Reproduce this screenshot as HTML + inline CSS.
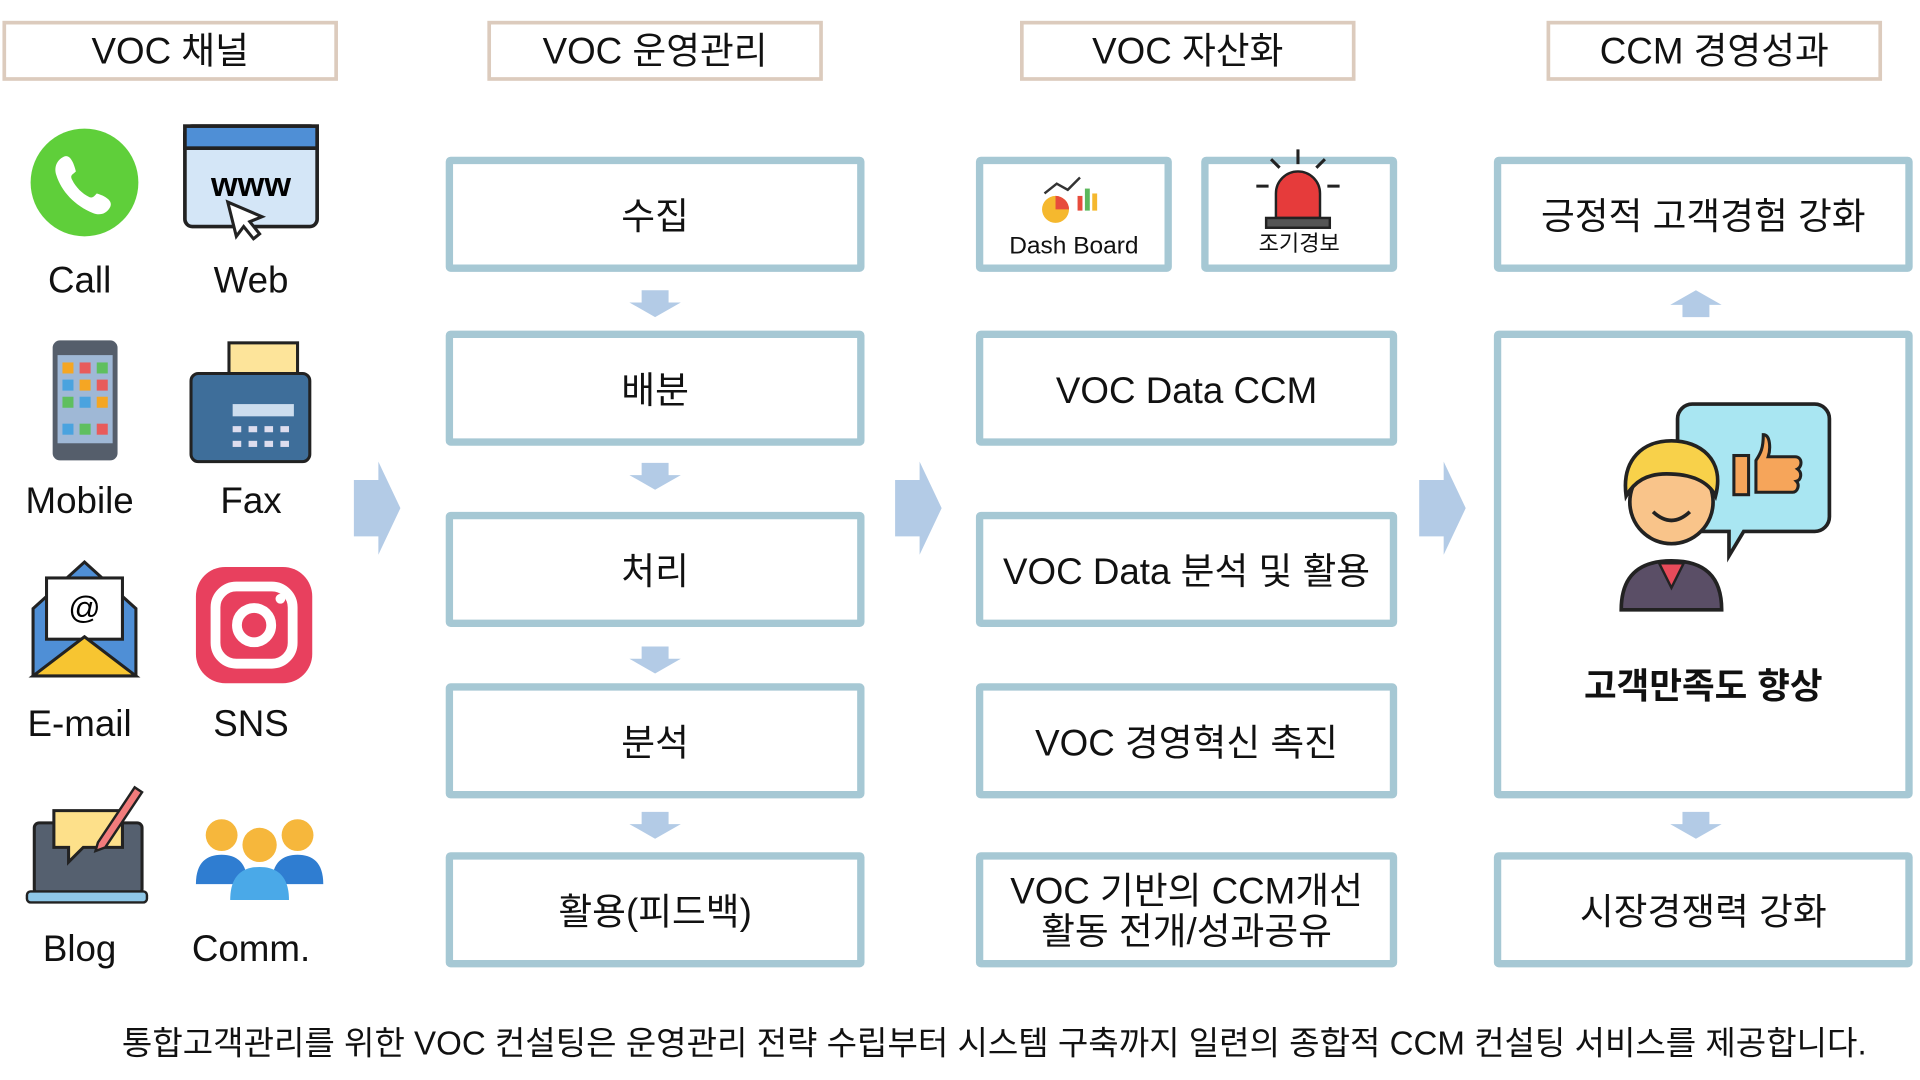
<!DOCTYPE html>
<html><head><meta charset="utf-8"><style>
*{margin:0;padding:0;box-sizing:border-box}
html,body{width:1920px;height:1080px;background:#fff;overflow:hidden}
#w{position:absolute;left:0;top:0;width:1568px;height:882px;transform:scale(1.2245);transform-origin:0 0;font-family:"Liberation Sans","Noto Sans CJK KR",sans-serif;color:#111}
.h{position:absolute;top:17px;height:49px;width:274px;border:3px solid #dccbbd;font-size:30px;text-align:center;line-height:45px}
.b{position:absolute;border:6px solid #a6c8d4;border-radius:4px;display:flex;align-items:center;justify-content:center;text-align:center;font-size:30px;line-height:1.1;padding-top:4px}
.lbl{position:absolute;font-size:30px;text-align:center;width:120px}
</style></head><body><div id="w">
<div class="h" style="left:2px">VOC 채널</div>
<div class="h" style="left:398px">VOC 운영관리</div>
<div class="h" style="left:833px">VOC 자산화</div>
<div class="h" style="left:1263px">CCM 경영성과</div>

<div class="b" style="left:364px;top:128px;width:342px;height:94px">수집</div>
<div class="b" style="left:364px;top:270px;width:342px;height:94px">배분</div>
<div class="b" style="left:364px;top:418px;width:342px;height:94px">처리</div>
<div class="b" style="left:364px;top:558px;width:342px;height:94px">분석</div>
<div class="b" style="left:364px;top:696px;width:342px;height:94px">활용(피드백)</div>

<div class="b" style="left:797px;top:128px;width:160px;height:94px;font-size:20px;align-items:flex-end;padding-bottom:4px">Dash Board</div>
<div class="b" style="left:981px;top:128px;width:160px;height:94px;font-size:18px;align-items:flex-end;padding-bottom:6px">조기경보</div>
<div class="b" style="left:797px;top:270px;width:344px;height:94px">VOC Data CCM</div>
<div class="b" style="left:797px;top:418px;width:344px;height:94px">VOC Data 분석 및 활용</div>
<div class="b" style="left:797px;top:558px;width:344px;height:94px">VOC 경영혁신 촉진</div>
<div class="b" style="left:797px;top:696px;width:344px;height:94px">VOC 기반의 CCM개선<br>활동 전개/성과공유</div>

<div class="b" style="left:1220px;top:128px;width:342px;height:94px">긍정적 고객경험 강화</div>
<div class="b" style="left:1220px;top:270px;width:342px;height:382px;align-items:flex-end;padding-bottom:68px;font-weight:bold;font-size:29px">고객만족도 향상</div>
<div class="b" style="left:1220px;top:696px;width:342px;height:94px">시장경쟁력 강화</div>

<svg style="position:absolute;left:0;top:0" width="1568" height="882">
<g fill="#b3cbe6">
<path d="M524 237h22v10h10l-21 12-21-12h10z"/>
<path d="M524 378h22v10h10l-21 12-21-12h10z"/>
<path d="M524 528h22v10h10l-21 12-21-12h10z"/>
<path d="M524 663h22v10h10l-21 12-21-12h10z"/>
<path d="M1374 663h22v10h10l-21 12-21-12h10z"/>
<path d="M1374 259h22v-10h10l-21-12-21 12h10z"/>
<path d="M289 392h20v-15l18 38-18 38v-15h-20z"/>
<path d="M731 392h20v-15l18 38-18 38v-15h-20z"/>
<path d="M1159 392h20v-15l18 38-18 38v-15h-20z"/>
</g>
<circle cx="69" cy="149" r="44" fill="#5fcf3a"/>
<path d="M52 128c6-3 9 8 10 12-3 3-5 3-3 7 3 6 8 11 14 14 3 1 4-1 6-3 4 1 14 5 11 11-3 6-9 7-14 5-15-6-26-18-30-31-2-6 0-12 6-15z" fill="#fff"/>
<rect x="151" y="103" width="108" height="82" rx="6" fill="#d4e6f7" stroke="#222" stroke-width="3"/>
<rect x="151" y="103" width="108" height="18" fill="#4f8fd6" stroke="#222" stroke-width="3"/>
<text x="205" y="160" font-size="28" font-weight="bold" text-anchor="middle" font-family="Liberation Sans">www</text>
<path d="M186 165l28 12-10 4 8 10-5 4-8-10-6 8z" fill="#fff" stroke="#222" stroke-width="2.5"/>
<rect x="43" y="278" width="53" height="98" rx="6" fill="#555e6b"/>
<rect x="47" y="290" width="45" height="72" fill="#9fb8d6"/>
<g fill="#f5a623"><rect x="51" y="296" width="9" height="9"/><rect x="65" y="296" width="9" height="9" fill="#e85b5b"/><rect x="79" y="296" width="9" height="9" fill="#5fbf5f"/><rect x="51" y="310" width="9" height="9" fill="#4aa3df"/><rect x="65" y="310" width="9" height="9"/><rect x="79" y="310" width="9" height="9" fill="#e85b5b"/><rect x="51" y="324" width="9" height="9" fill="#5fbf5f"/><rect x="65" y="324" width="9" height="9" fill="#4aa3df"/><rect x="79" y="324" width="9" height="9"/><rect x="51" y="346" width="9" height="9" fill="#4aa3df"/><rect x="65" y="346" width="9" height="9" fill="#5fbf5f"/><rect x="79" y="346" width="9" height="9" fill="#e85b5b"/></g>
<rect x="187" y="280" width="56" height="46" fill="#fde49a" stroke="#222" stroke-width="2.5"/>
<rect x="156" y="305" width="97" height="72" rx="6" fill="#3e6e9a" stroke="#222" stroke-width="2.5"/>
<rect x="190" y="330" width="50" height="10" fill="#cde"/>
<g fill="#dde"><rect x="190" y="348" width="7" height="5"/><rect x="203" y="348" width="7" height="5"/><rect x="216" y="348" width="7" height="5"/><rect x="229" y="348" width="7" height="5"/><rect x="190" y="360" width="7" height="5"/><rect x="203" y="360" width="7" height="5"/><rect x="216" y="360" width="7" height="5"/><rect x="229" y="360" width="7" height="5"/></g>
<path d="M27 497l42-38 42 38v55H27z" fill="#4f8fd6" stroke="#222" stroke-width="2.5"/>
<rect x="38" y="472" width="62" height="50" fill="#fff" stroke="#222" stroke-width="2.5"/>
<text x="69" y="505" font-size="26" text-anchor="middle" font-family="Liberation Sans">@</text>
<path d="M27 552l42-32 42 32z" fill="#f7c531" stroke="#222" stroke-width="2.5"/>
<rect x="160" y="463" width="95" height="95" rx="24" fill="#e8405e"/>
<rect x="176" y="479" width="63" height="63" rx="17" fill="none" stroke="#fff" stroke-width="8"/>
<circle cx="207.5" cy="510.5" r="14" fill="none" stroke="#fff" stroke-width="8"/>
<circle cx="229" cy="489" r="4" fill="#fff"/>
<rect x="28" y="672" width="88" height="58" rx="4" fill="#55606f" stroke="#222" stroke-width="2.5"/>
<rect x="22" y="728" width="98" height="9" rx="3" fill="#8fc8e8" stroke="#222" stroke-width="2"/>
<path d="M44 662h56v30H68l-12 12v-12H44z" fill="#fde08a" stroke="#222" stroke-width="2.5"/>
<path d="M80 688l30-45 6 4-30 45-8 3z" fill="#f27c7c" stroke="#222" stroke-width="2"/>
<g><circle cx="181" cy="682" r="13" fill="#f6b73c"/><path d="M160 722c0-18 9-24 21-24s21 6 21 24z" fill="#2f7dd1"/>
<circle cx="243" cy="682" r="13" fill="#f6b73c"/><path d="M222 722c0-18 9-24 21-24s21 6 21 24z" fill="#2f7dd1"/>
<circle cx="212" cy="690" r="14" fill="#f6b73c"/><path d="M188 735c0-20 10-27 24-27s24 7 24 27z" fill="#4aa9e8"/></g>
<circle cx="862" cy="171" r="11" fill="#f5b82e"/><path d="M862 171v-11a11 11 0 0 1 11 11z" fill="#e74c3c"/>
<rect x="880" y="160" width="4" height="12" fill="#e74c3c"/><rect x="886" y="154" width="4" height="18" fill="#5cb85c"/><rect x="892" y="158" width="4" height="14" fill="#f5b82e"/>
<path d="M853 158l10-8 9 5 10-10" stroke="#333" stroke-width="2" fill="none"/>
<path d="M1042 158a18 18 0 0 1 36 0v20h-36z" fill="#e63b3b" stroke="#222" stroke-width="2"/>
<rect x="1034" y="178" width="52" height="8" fill="#555" stroke="#222" stroke-width="2"/>
<g stroke="#222" stroke-width="2.5"><path d="M1060 122v12M1038 130l7 7M1082 130l-7 7M1026 152h10M1084 152h10"/></g>
<path d="M1382 330h100a12 12 0 0 1 12 12v80a12 12 0 0 1-12 12h-58l-12 20v-20h-30a12 12 0 0 1-12-12v-80a12 12 0 0 1 12-12z" fill="#a9e6f2" stroke="#222" stroke-width="3"/>
<path d="M1440 355c6 0 6 12 4 18h22c6 0 6 8 2 10 4 3 3 9-1 10 3 3 1 9-3 9h-30v-26c4-6 6-10 6-21z" fill="#f6a55a" stroke="#222" stroke-width="2.5"/>
<rect x="1416" y="372" width="12" height="32" fill="#f6a55a" stroke="#222" stroke-width="2.5"/>
<path d="M1324 498c0-28 15-40 41-40s41 12 41 40z" fill="#5a4e66" stroke="#222" stroke-width="3"/>
<path d="M1355 460l10 20 10-20z" fill="#e84b5a" stroke="#222" stroke-width="2"/>
<circle cx="1365" cy="410" r="34" fill="#f9c48a" stroke="#222" stroke-width="3"/>
<path d="M1328 405c-4-30 14-45 37-45s44 15 36 45c-6-12-20-18-40-18-16 0-26 6-33 18z" fill="#f8d14a" stroke="#222" stroke-width="3"/>
<path d="M1350 418q15 14 30 0" stroke="#222" stroke-width="3" fill="none"/>
</svg>
<div class="lbl" style="left:5px;top:213px">Call</div>
<div class="lbl" style="left:145px;top:213px">Web</div>
<div class="lbl" style="left:5px;top:393px">Mobile</div>
<div class="lbl" style="left:145px;top:393px">Fax</div>
<div class="lbl" style="left:5px;top:575px">E-mail</div>
<div class="lbl" style="left:145px;top:575px">SNS</div>
<div class="lbl" style="left:5px;top:759px">Blog</div>
<div class="lbl" style="left:145px;top:759px">Comm.</div>
<div style="position:absolute;left:0;width:1624px;top:830px;text-align:center;font-size:27px;letter-spacing:0">통합고객관리를 위한 VOC 컨설팅은 운영관리 전략 수립부터 시스템 구축까지 일련의 종합적 CCM 컨설팅 서비스를 제공합니다.</div>
</div></body></html>
